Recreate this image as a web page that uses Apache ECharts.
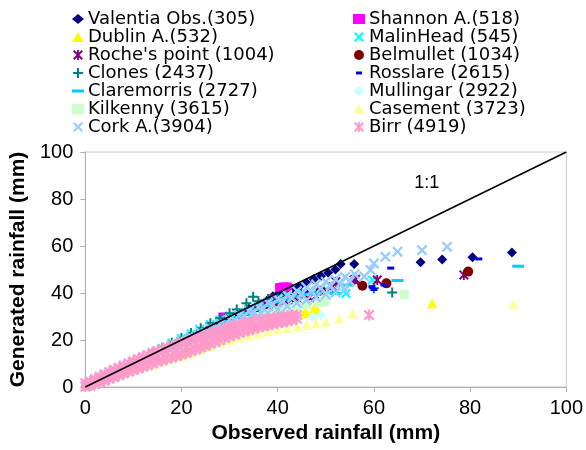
<!DOCTYPE html>
<html>
<head>
<meta charset="utf-8">
<script src="https://cdn.jsdelivr.net/npm/echarts@6/dist/echarts.min.js"></script>
<style>html,body{margin:0;padding:0;background:#fff}#c{width:586px;height:450px}</style>
</head>
<body>
<div id="c"></div>
<script>
// ---------- data (observed mm, generated mm) ----------
var stationNames = ['Valentia Obs.(305)','Shannon A.(518)','Dublin A.(532)','MalinHead (545)','Roche\'s point (1004)','Belmullet (1034)','Clones (2437)','Rosslare (2615)','Claremorris (2727)','Mullingar (2922)','Kilkenny (3615)','Casement (3723)','Cork A.(3904)','Birr (4919)'];
var xTicks = [0,20,40,60,80,100];
var yTicks = [0,20,40,60,80,100];
var oneToOne = [[0,0],[100,100]];

var valentia = [[0.3,0.4],[2,2.1],[4,4],[6,6],[8,7.9],[10,9.9],[12,11.8],[14,13.8],[16,15.8],[18,17.7],[20,19.7],[22,21.6],[24,23.6],[26,25.5],[28,27.5],[30,29.5],[32,31.4],[34,33.3],[36,35.2],[38,37.2],[39,38.6],[40,39.4],[41.5,40.6],[43,41.8],[44.5,42.8],[46,44.4],[47.5,45.8],[49,47.2],[50.5,48.6],[52,50],[53.1,52.3],[55.9,52.3],[69.7,53.1],[74.2,54.3],[80.5,55.2],[88.7,57.2]];
var shannon = [[0.4,0.4],[2,1.9],[4,3.9],[6,5.8],[8,7.7],[10,9.6],[12,11.5],[14,13.4],[16,15.3],[18,17.2],[20,19.1],[22,21],[24,22.9],[26,24.8],[28.6,29.8],[31,29.8],[34,32.6],[37,35.4],[39,37.5],[40.4,42.3],[41.2,42.6],[42,42.6]];
var dublin = [[0.4,0.4],[2,1.8],[4,3.6],[6,5.3],[8,7],[10,8.7],[12,10.3],[14,11.9],[16,13.5],[18,15],[20,16.5],[22,18],[24,19.5],[26,21],[28,22.4],[30,23.8],[32,25.2],[34,26.5],[36,27.7],[38,28.8],[40,29.6],[42,30.2],[43.1,29.2],[45.5,31.4],[45.9,32],[47.6,33.6],[48.3,32.8],[72.1,35.6]];
var malin = [[0.4,0.5],[2,2.1],[4,4.1],[6,6.2],[8,8.2],[10,10.3],[12,12.4],[14,14.5],[16,16.5],[18,18.6],[20,20.6],[22,22.6],[23.8,24.6],[26,26.6],[28,28.5],[30,30.2],[32,31.8],[34,33.3],[36,34.8],[38,36.3],[40,37.6],[42,38.7],[45,40],[48,40.8],[50,41.5],[52.1,40.2],[54.2,39.8],[59.7,45.5]];
var roche = [[0.4,0.4],[2,2],[4,3.9],[6,5.8],[8,7.6],[10,9.5],[12,11.3],[14,13.1],[16,14.9],[18,16.7],[20,18.5],[22,20.3],[24,22],[26,23.8],[28,25.6],[30,27.3],[32,29],[34,30.7],[36,32.3],[38,34],[40,35.5],[42,36.8],[44,37.6],[46.6,38],[48,38.8],[51.4,42.7],[52.1,44.8],[55.9,45.5],[56.2,45.8],[60.7,45.5],[78.7,47.7]];
var belmullet = [[0.4,0.4],[2,1.9],[4,3.8],[6,5.7],[8,7.5],[10,9.4],[12,11.2],[14,13],[16,14.8],[18,16.6],[20,18.4],[22,20.2],[24,22],[26,23.7],[28,25.5],[30,27.2],[32,29],[34,30.7],[36,32.4],[38,34],[40,35.6],[43,37.5],[46,39.5],[49,41],[57.6,43.1],[62.6,44.1],[79.6,49.1]];
var clones = [[0.4,0.5],[2,2.2],[4,4.2],[6,6.3],[8,8.3],[10,10.4],[12,12.5],[14,14.6],[16,16.7],[18,18.8],[20,20.9],[22,23],[24,25],[26,27.1],[28,29.3],[30,31.4],[31.5,33],[33.5,35.6],[34.9,38.4],[36,36.5],[38,37.5],[40,38],[42,38.5],[45,39.5],[60,42],[63.8,40.2]];
var rosslare = [[0.4,0.4],[2,2],[4,3.9],[6,5.9],[8,7.8],[10,9.7],[12,11.6],[14,13.5],[16,15.4],[18,17.2],[20,19.1],[22,21],[24,22.8],[26,24.6],[28,26.4],[30,28.2],[32,30],[34,31.8],[36,33.5],[38,35.2],[40,36.8],[42,38.2],[44,39.5],[46,40.4],[49,41.3],[59.6,42.7],[60,41.5],[62.1,43.4],[63.5,50.6],[81.8,54.5]];
var claremorris = [[0.4,0.4],[2,2],[4,3.9],[6,5.8],[8,7.7],[10,9.6],[12,11.5],[14,13.3],[16,15.2],[18,17],[20,18.9],[22,20.7],[24,22.5],[26,24.3],[28,26.1],[30,27.9],[32,29.6],[34,31.3],[36,33],[38,34.6],[40,36.2],[42,37.5],[44,38.6],[46,39.4],[48,40],[52.1,39.8],[54.5,43.4],[64.9,45.3],[90,51.4]];
var mullingar = [[0.4,0.4],[2,1.8],[4,3.6],[6,5.4],[8,7.1],[10,8.8],[12,10.5],[14,12.1],[16,13.8],[18,15.4],[20,17],[22,18.5],[24,20],[26,21.5],[28,23],[30,24.4],[32,25.8],[34,27],[36,28.2],[38,29.2],[40,30],[42,30.6],[44,31],[47.3,29.9],[49,30.6]];
var kilkenny = [[0.4,0.4],[2,1.9],[4,3.7],[6,5.5],[8,7.3],[10,9.1],[12,10.8],[14,12.5],[16,14.2],[18,15.9],[20,17.6],[22,19.2],[24,20.8],[26,22.4],[28,24],[30,25.5],[32,27],[34,28.5],[36,30],[38,31.3],[40,32.5],[42,33.3],[44,34.2],[46,35],[48.6,36],[49.7,36.3],[50,37.5],[66.3,39.4]];
var casement = [[0.4,0.3],[2,1.5],[4,3],[6,4.5],[8,5.9],[10,7.2],[12,8.5],[14,9.8],[16,11],[18,12.1],[20,13.2],[22,14.5],[24,15.9],[26,17.3],[28,18.7],[30,20],[32,21.1],[34,22],[36,22.9],[38,23.7],[40,24.5],[42,25.2],[44,25.8],[46,26.4],[48,27.1],[50,27.8],[52.8,29.2],[55.6,31.3],[89,35.2]];
var cork = [[0.4,0.4],[2,2],[4,3.9],[6,5.8],[8,7.7],[10,9.6],[12,11.4],[14,13.2],[16,15],[18,16.8],
  [20,19.5],[22,21.4],[24,23.2],[26,25],[28,26.9],[30,28.7],[32,30.5],[34,32.3],[36,34],[38,35.8],[40,37.5],[42,39.2],[44,40.8],[46,42.3],[48,43.6],[50,44.8],[52,45.8],[54,46.8],[56,48],
  [20,16.8],[22,18.5],[24,20.2],[26,21.9],[28,23.6],[30,25.3],[32,26.9],[34,28.5],[36,30],[38,31.5],[40,33],[42,34.4],[44,35.7],[46,37],[48,38.2],[50,39.3],[52,40.3],[54,41.3],
  [21,19.4],[23,21.2],[25,23],[27,24.8],[29,26.6],[31,28.3],[33,30],[35,31.7],[37,33.4],[39,35],[41,36.5],[43,38],[45,39.5],[47,40.8],[49,42],[51,43],[53,44],[55,45],
  [58,47],[59.3,49.8],[60,52.6],[62.4,55.4],[64.9,57.6],[70,58.2],[75.2,59.7]];
var birr = [[0,0.2],[0,1.6],[1,0.5],[1,2.3],[2,1.2],[2,3.4],[3,2],[3,4.4],[4,2.7],[4,5.4],[5,3.5],[5,6.4],[6,4.2],[6,7.3],[7,5],[7,8.2],[8,5.7],[8,9.2],[9,6.5],[9,10.1],[10,7.2],[10,11],[11,7.9],[11,11.9],[12,8.6],[12,12.8],[13,9.3],[13,13.6],[14,10],[14,14.5],[15,10.7],[15,15.3],[16,11.4],[16,16],[17,12],[17,16.8],[18,12.6],[18,17.5],[19,13.2],[19,18.2],[20,13.8],[20,18.9],[21,14.5],[21,19.5],[22,15.3],[22,20.1],[23,16],[23,20.7],[24,16.8],[24,21.4],[25,17.6],[25,22.1],[26,18.4],[26,22.8],[27,19.2],[27,23.5],[28,20],[28,24.2],[29,20.8],[29,24.9],[30,21.6],[30,25.6],[31,22.3],[31,26.1],[32,23],[32,26.6],[33,23.6],[33,27.1],[34,24.2],[34,27.5],[35,24.8],[35,27.9],[36,25.3],[36,28.3],[37,25.8],[37,28.7],[38,26.3],[38,29],[39,26.8],[39,29.3],[40,27.2],[40,29.6],[41,27.6],[41,29.9],[42,28],[42,30.2],[43,28.5],[43,30.4],[44,29],[44,30.6],
  [1,1.4],[3,3.2],[5,4.9],[7,6.6],[9,8.3],[11,9.9],[13,11.5],[15,13],[17,14.4],[19,15.7],[21,17],[23,18.3],[25,19.8],[27,21.3],[29,22.8],[31,24.2],[33,25.3],[35,26.3],[37,27.2],[39,28],[41,28.7],[43,29.4],
  [59,30.6]];

var seriesData = [valentia,shannon,dublin,malin,roche,belmullet,clones,rosslare,claremorris,mullingar,kilkenny,casement,cork,birr];
var colors = ['#000080','#FF00FF','#FFFF00','#00FFFF','#800080','#800000','#008080','#0000FF','#00CCFF','#CCFFFF','#CCFFCC','#FFFF99','#99CCFF','#FF99CC'];

// ---------- symbols ----------
var X = 'path://M0,1.5 L1.5,0 L5,3.5 L8.5,0 L10,1.5 L6.5,5 L10,8.5 L8.5,10 L5,6.5 L1.5,10 L0,8.5 L3.5,5 Z';
var STAR = 'path://M0,1.4 L1.4,0 L10,8.6 L8.6,10 Z M8.6,0 L10,1.4 L1.4,10 L0,8.6 Z M4.1,0 L5.9,0 L5.9,10 L4.1,10 Z';
var PLUS = 'path://M4,0 H6 V4 H10 V6 H6 V10 H4 V6 H0 V4 H4 Z';
var SDASH = 'path://M0,0 L0.01,0 M12,10 L12.01,10 M3,3.5 H9 V6.5 H3 Z';
var LDASH = 'path://M0,0 L0.01,0 M12,10 L12.01,10 M0,3.5 H12 V6.5 H0 Z';
var symbols = ['diamond','rect','triangle',X,STAR,'circle',PLUS,'rect','rect','diamond','rect','triangle',X,STAR];
var sizes = [10,9,10,10,10,10,10,[7,3],[12,3],10,9,10,11,11];
var legendIcons = ['diamond','rect','triangle',X,STAR,'circle',PLUS,SDASH,LDASH,'diamond','rect','triangle',X,STAR];

var series = stationNames.map(function(n,i){
  return {
    name: n, type: 'scatter', data: seriesData[i],
    symbol: symbols[i], symbolSize: sizes[i],
    itemStyle: {color: colors[i], opacity: 1},
    emphasis: {disabled: true}, animation: false, z: 2
  };
});
series.push({
  name: '1:1', type: 'line', data: oneToOne, showSymbol: false, symbol: 'none',
  lineStyle: {color: '#000', width: 1.5}, z: 5, animation: false, silent: true,
  markPoint: {
    symbol: 'circle', symbolSize: 0, silent: true,
    label: {show: true, formatter: '1:1', color: '#000', fontSize: 18, fontFamily: 'Liberation Sans, Arial, sans-serif'},
    data: [{coord: [71, 87]}]
  }
});

function legendCol(idxs, left){
  return {
    orient: 'vertical', left: left, top: 10, itemGap: 0,
    itemWidth: 12, itemHeight: 10, padding: 0,
    selectedMode: false,
    textStyle: {fontSize: 18, lineHeight: 17, color: '#000', fontFamily: 'DejaVu Sans, sans-serif', padding: [0,0,0,-1]},
    data: idxs.map(function(i){ return {name: stationNames[i], icon: legendIcons[i]}; })
  };
}

var chart = echarts.init(document.getElementById('c'), null, {renderer: 'canvas'});
chart.setOption({
  animation: false,
  backgroundColor: '#fff',
  legend: [legendCol([0,2,4,6,8,10,12], 72), legendCol([1,3,5,7,9,11,13], 353)],
  grid: {left: 85, right: 18, top: 152, bottom: 63, show: true, borderColor: '#c8c8c8', borderWidth: 1, backgroundColor: 'transparent'},
  xAxis: {
    type: 'value', min: xTicks[0], max: xTicks[xTicks.length-1], interval: xTicks[1]-xTicks[0],
    name: 'Observed rainfall (mm)', nameLocation: 'middle', nameGap: 36,
    nameTextStyle: {fontSize: 21, fontWeight: 'bold', color: '#000', fontFamily: 'Liberation Sans, Arial, sans-serif'},
    axisLine: {show: true, lineStyle: {color: '#b0b0b0', width: 1}},
    axisTick: {show: true, inside: false, length: 5, lineStyle: {color: '#b0b0b0'}},
    axisLabel: {fontSize: 20, color: '#000', margin: 11, fontFamily: 'Liberation Sans, Arial, sans-serif'},
    splitLine: {show: false}
  },
  yAxis: {
    type: 'value', min: yTicks[0], max: yTicks[yTicks.length-1], interval: yTicks[1]-yTicks[0],
    name: 'Generated rainfall (mm)', nameLocation: 'middle', nameGap: 55, nameRotate: 90,
    nameTextStyle: {fontSize: 21, fontWeight: 'bold', color: '#000', fontFamily: 'Liberation Sans, Arial, sans-serif'},
    axisLine: {show: true, lineStyle: {color: '#b0b0b0', width: 1}},
    axisTick: {show: true, inside: false, length: 5, lineStyle: {color: '#b0b0b0'}},
    axisLabel: {fontSize: 20, color: '#000', margin: 12, fontFamily: 'Liberation Sans, Arial, sans-serif'},
    splitLine: {show: false}
  },
  series: series
});
</script>
</body>
</html>
